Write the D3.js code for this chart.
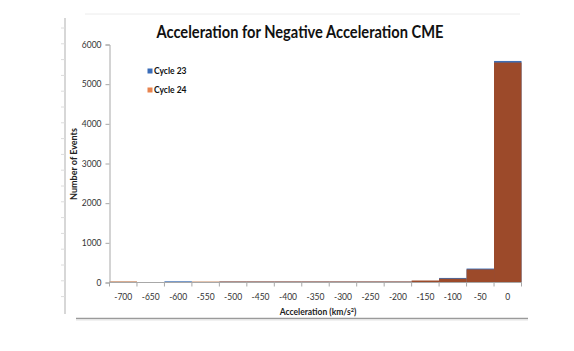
<!DOCTYPE html>
<html>
<head>
<meta charset="utf-8">
<script src="https://cdn.jsdelivr.net/npm/d3@7"></script>
<style>
  body { margin: 0; background: #fff; }
  svg { display: block; }
  text { font-family: Lato, "Open Sans", sans-serif; }
</style>
</head>
<body>
<svg id="chart" width="574" height="351"></svg>
<script>
// Data
const categories = ["-700", "-650", "-600", "-550", "-500", "-450", "-400", "-350", "-300", "-250", "-200", "-150", "-100", "-50", "0"];
const cycle23 = [0, 0, 30, 0, 20, 20, 20, 20, 20, 20, 20, 30, 115, 352, 5585];
const cycle24 = [30, 0, 0, 25, 25, 25, 25, 25, 25, 25, 25, 50, 95, 330, 5545];
const yTicks = [0, 1000, 2000, 3000, 4000, 5000, 6000];
const seriesNames = ["Cycle 23", "Cycle 24"];

// Layout
const svg = d3.select("#chart");
const plot = {left: 109.5, right: 521.5, top: 44.5, bottom: 282.5};

const x = d3.scaleBand().domain(categories).range([plot.left, plot.right]).padding(0);
const y = d3.scaleLinear().domain([0, 6000]).range([plot.bottom, plot.top]);

// Frame (slide edges)
const frame = svg.append("g");
frame.append("line")
    .attr("x1", 65).attr("x2", 65).attr("y1", 18).attr("y2", 314)
    .attr("stroke", "#bdbdbd").attr("stroke-width", 1.2);
d3.range(28, 310, 15.8).forEach(v => {
    frame.append("line")
        .attr("x1", 61).attr("x2", 65).attr("y1", v).attr("y2", v)
        .attr("stroke", "#dcdcdc").attr("stroke-width", 1);
});
frame.append("line")
    .attr("x1", 85).attr("x2", 520).attr("y1", 14).attr("y2", 14)
    .attr("stroke", "#ececec").attr("stroke-width", 1);
frame.append("line")
    .attr("x1", 76).attr("x2", 528).attr("y1", 318.5).attr("y2", 318.5)
    .attr("stroke", "#9a9a9a").attr("stroke-width", 1.4);
frame.append("line")
    .attr("x1", 76).attr("x2", 528).attr("y1", 320).attr("y2", 320)
    .attr("stroke", "#e4e4e4").attr("stroke-width", 1);

// Title
svg.append("text")
    .attr("x", 300).attr("y", 38)
    .attr("text-anchor", "middle")
    .attr("font-weight", "bold")
    .attr("font-size", 16.5)
    .attr("fill", "#111")
    .attr("textLength", 287)
    .attr("lengthAdjust", "spacingAndGlyphs")
    .text("Acceleration for Negative Acceleration CME");

// Bars: cycle 23 behind, cycle 24 in front (100% overlap, no gap)
svg.append("g").selectAll("rect")
    .data(categories.map((c, i) => ({c, v: cycle23[i]})))
    .join("rect")
    .attr("x", d => x(d.c))
    .attr("width", x.bandwidth())
    .attr("y", d => y(d.v))
    .attr("height", d => y(0) - y(d.v))
    .attr("fill", "#3f6fb4");

svg.append("g").selectAll("rect")
    .data(categories.map((c, i) => ({c, v: cycle24[i]})))
    .join("rect")
    .attr("x", d => x(d.c))
    .attr("width", x.bandwidth())
    .attr("y", d => y(d.v))
    .attr("height", d => y(0) - y(d.v))
    .attr("fill", (d, i) => cycle23[i] === 0 ? "#c98a62" : "#9c4a2a");

// Y axis
const yAxis = svg.append("g")
    .attr("transform", `translate(${plot.left},0)`)
    .call(d3.axisLeft(y).tickValues(yTicks).tickSize(4).tickFormat(d3.format("d")));
yAxis.select(".domain").attr("stroke", "#a8a8a8");
yAxis.selectAll(".tick line").attr("stroke", "#a8a8a8");
yAxis.selectAll(".tick text")
    .attr("x", -8)
    .attr("font-family", "Lato, sans-serif")
    .attr("font-size", 8.5)
    .attr("fill", "#333");

// X axis (ticks on bin boundaries)
const xAxis = svg.append("g")
    .attr("transform", `translate(0,${plot.bottom})`);
xAxis.append("line")
    .attr("x1", plot.left).attr("x2", plot.right)
    .attr("stroke", "#a8a8a8");
const edges = categories.map(c => x(c)).concat([x(categories[categories.length - 1]) + x.bandwidth()]);
xAxis.selectAll(".edge")
    .data(edges)
    .join("line")
    .attr("class", "edge")
    .attr("x1", d => d).attr("x2", d => d)
    .attr("y1", 0).attr("y2", 4)
    .attr("stroke", "#a8a8a8");
xAxis.selectAll(".lbl")
    .data(categories)
    .join("text")
    .attr("class", "lbl")
    .attr("x", d => x(d) + x.bandwidth() / 2)
    .attr("y", 17.5)
    .attr("text-anchor", "middle")
    .attr("font-size", 8.5)
    .attr("fill", "#333")
    .text(d => d);

// Axis titles
const xTitle = svg.append("text")
    .attr("x", 318).attr("y", 315)
    .attr("text-anchor", "middle")
    .attr("font-weight", "bold")
    .attr("font-size", 8.5)
    .attr("fill", "#222")
    .text("Acceleration (km/s");
xTitle.append("tspan").attr("baseline-shift", "super").attr("font-size", 5.5).text("2");
xTitle.append("tspan").text(")");

svg.append("text")
    .attr("transform", "translate(77,164) rotate(-90)")
    .attr("text-anchor", "middle")
    .attr("font-weight", "bold")
    .attr("font-size", 9)
    .attr("fill", "#222")
    .text("Number of Events");

// Legend
const legendColors = ["#3a6cb8", "#e8834e"];
const legend = svg.append("g");
seriesNames.forEach((name, i) => {
    const ly = 71.5 + i * 19;
    legend.append("rect")
        .attr("x", 147.5).attr("y", ly - 3)
        .attr("width", 5).attr("height", 5)
        .attr("fill", legendColors[i]);
    legend.append("text")
        .attr("x", 154).attr("y", ly + 2.8)
        .attr("font-weight", "bold")
        .attr("font-size", 8.5)
        .attr("fill", "#111")
        .text(name);
});
</script>
</body>
</html>
